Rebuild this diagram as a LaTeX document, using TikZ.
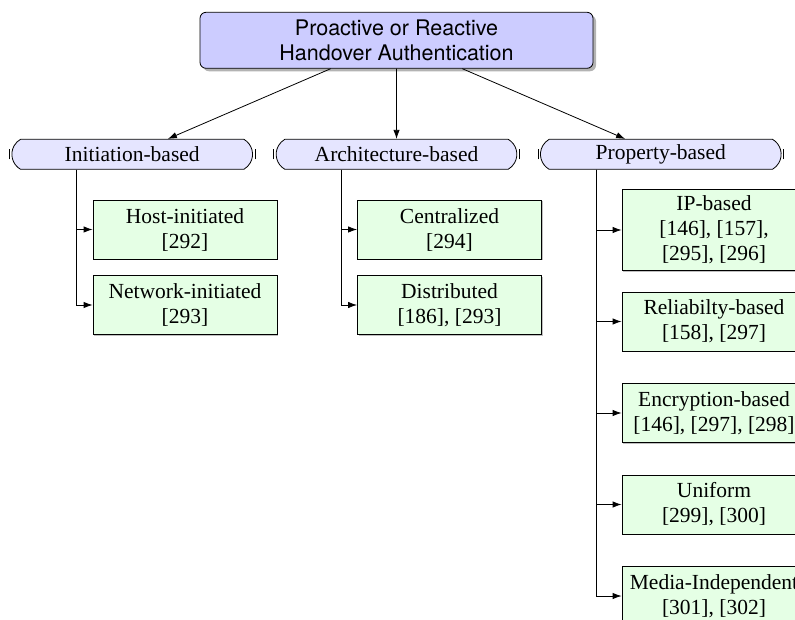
\documentclass[tikz,border=0pt]{standalone}
\usepackage{fontspec}
\setmainfont{Liberation Serif}
\newfontfamily\headfont{TeX Gyre Heros}
\usepackage{tikz}
\usepackage{xcolor}
\usetikzlibrary{shapes,arrows,arrows.meta,positioning,shadows,shapes.misc}

\begin{document}
\begin{tikzpicture}[node distance=45.75pt,
    font=\fontsize{10.75pt}{12.5pt}\selectfont,
    rootbox/.style={draw, rectangle, rounded corners=3pt, fill=blue!20, align=center,
        minimum width=196.5pt, minimum height=28pt,
        drop shadow={shadow xshift=1.5pt, shadow yshift=-1.5pt, opacity=0.6},
        font=\headfont\fontsize{10.75pt}{12.5pt}\selectfont},
    catbox/.style={draw, rounded rectangle, rounded rectangle arc length=120, fill=blue!10,
        minimum width=127pt, minimum height=15pt, inner ysep=0pt},
    leafbox/.style={draw, rectangle, fill=green!10, align=center, minimum width=92pt, minimum height=29.5pt,
        drop shadow={shadow xshift=0.6pt, shadow yshift=-0.6pt, opacity=0.5}},
    link/.style={-{Latex[length=4.5pt,width=3.2pt]}}]

    \useasboundingbox (0,0) rectangle (397.5pt,-309.5pt);

    % Root
    \node[rootbox] (root) at (198.25pt,-20.15pt) {Proactive or Reactive\\Handover Authentication};

    % Categories
    \node[catbox] (init) at (66.1pt,-77.15pt) {Initiation-based};
    \node[catbox] (arch) at (198.25pt,-77.15pt) {Architecture-based};
    \node[catbox] (prop) at (330.4pt,-77.15pt) {Property-based};

    % end ticks
    \foreach \c in {init,arch,prop} {
        \draw ([xshift=-1pt,yshift=-2.5pt]\c.west) -- ([xshift=-1pt,yshift=2.5pt]\c.west);
        \draw ([xshift=1pt,yshift=-2.5pt]\c.east) -- ([xshift=1pt,yshift=2.5pt]\c.east);
    }

    % Initiation-based
    \node[leafbox] (host) at (92.5pt,-114.75pt) {Host-initiated\\{[}292{]}};
    \node[leafbox, below of=host, yshift=8pt] (network) {Network-initiated\\{[}293{]}};

    % Architecture-based
    \node[leafbox] (central) at (224.75pt,-114.75pt) {Centralized\\{[}294{]}};
    \node[leafbox, below of=central, yshift=8pt] (distrib) {Distributed\\{[}186{]}, [293]};

    % Property-based
    \node[leafbox] (ipbased) at (357pt,-115pt) {IP-based\\{[}146{]}, [157],\\{[}295{]}, [296]};
    \node[leafbox, below of=ipbased] (reliab) {Reliabilty-based\\{[}158{]}, [297]};
    \node[leafbox, below of=reliab] (encrypt) {Encryption-based\\{[}146{]}, [297], [298]};
    \node[leafbox, below of=encrypt] (uniform) {Uniform\\{[}299{]}, [300]};
    \node[leafbox, below of=uniform] (media) {Media-Independent\\{[}301{]}, [302]};

    % bus lines
    \coordinate (initbus) at ([xshift=-8.25pt]host.west);
    \coordinate (archbus) at ([xshift=-8pt]central.west);
    \coordinate (propbus) at ([xshift=-12.5pt]ipbased.west);

    \draw[link] (root) -- (init);
    \draw[link] (root) -- (arch);
    \draw[link] (root) -- (prop);

    \draw[link] (init.south -| initbus) |- (host);
    \draw[link] (init.south -| initbus) |- (network);
    \draw[link] (arch.south -| archbus) |- (central);
    \draw[link] (arch.south -| archbus) |- (distrib);
    \draw[link] (prop.south -| propbus) |- (ipbased);
    \draw[link] (prop.south -| propbus) |- (reliab);
    \draw[link] (prop.south -| propbus) |- (encrypt);
    \draw[link] (prop.south -| propbus) |- (uniform);
    \draw[link] (prop.south -| propbus) |- (media);

\end{tikzpicture}
\end{document}
